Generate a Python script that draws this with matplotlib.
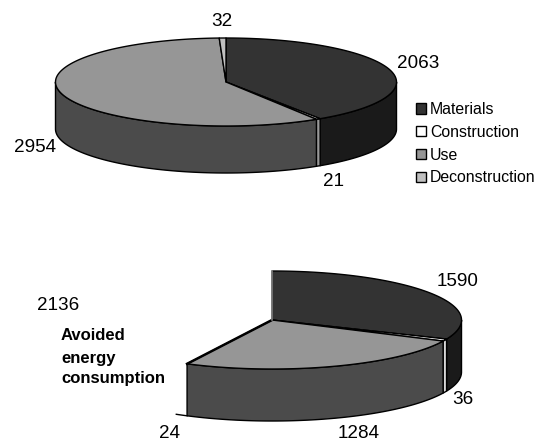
import numpy as np
import matplotlib
matplotlib.use("Agg")
import matplotlib.pyplot as plt
from matplotlib.patches import Patch

plt.rcParams['font.family'] = ['Liberation Sans', 'DejaVu Sans']

categories = ["Materials", "Construction", "Use", "Deconstruction"]
top_values = [2063, 21, 2954, 32]
# second pie: the gap is the avoided energy consumption
bottom_values = [1590, 36, 1284, 24]
avoided_value = 2136

top_colors = ["#333333", "#ffffff", "#969696", "#c0c0c0"]
side_colors = ["#1a1a1a", "#999999", "#4b4b4b", "#606060"]
side_colors_bottom = ["#1a1a1a", "#d8d8d8", "#4b4b4b", "#606060"]


def arc(t0, t1, cx, cy, rx, ry, dy=0):
    # angles clockwise from 12 o'clock, y axis goes down
    t = np.radians(np.linspace(t0, t1, max(int(abs(t1 - t0)) * 2, 2)))
    return cx + rx * np.sin(t), cy - ry * np.cos(t) + dy


def draw_pie(ax, values, total, cx, cy, rx, ry, depth, sides, n_shown=None):
    # slices after n_shown are left out, only their bottom rim gets a line
    edges = np.concatenate([[0], np.cumsum(values)]) / total * 360
    n_shown = len(values) if n_shown is None else n_shown
    # walls first, only the front half of the disc shows one
    for i in range(n_shown):
        t0 = max(edges[i], 90)
        t1 = min(edges[i + 1], 270)
        if t1 <= t0:
            continue
        xa, ya = arc(t0, t1, cx, cy, rx, ry)
        xb, yb = arc(t1, t0, cx, cy, rx, ry, depth)
        ax.fill(np.r_[xa, xb], np.r_[ya, yb], facecolor=sides[i],
                edgecolor="black", linewidth=1.0, joinstyle="round", zorder=2)
    for i in range(n_shown):
        xa, ya = arc(edges[i], edges[i + 1], cx, cy, rx, ry)
        ax.fill(np.r_[cx, xa], np.r_[cy, ya], facecolor=top_colors[i],
                edgecolor="black", linewidth=1.0, joinstyle="round", zorder=3)
    return edges


fig = plt.figure(figsize=(5.41, 4.41), dpi=100)
ax = fig.add_axes([0, 0, 1, 1])
ax.set_xlim(0, 541)
ax.set_ylim(441, 0)
ax.axis("off")

draw_pie(ax, top_values, sum(top_values), 226, 82, 170.5, 44, 47, side_colors)

bx, by, brx, bry, bdepth = 272, 320, 189.5, 49, 52
bedges = draw_pie(ax, bottom_values, sum(bottom_values) + avoided_value, bx, by, brx, bry, bdepth,
                  side_colors_bottom, n_shown=3)
# heavy radial edge next to the hidden slice
xe, ye = arc(bedges[3], bedges[3], bx, by, brx, bry)
ax.plot([bx, xe[0]], [by, ye[0]], color="black", lw=1.8, zorder=4)
# the radial edge at 12 o'clock is grey in the original
xe, ye = arc(0, 0, bx, by, brx, bry)
ax.plot([bx, xe[0]], [by, ye[0]], color="#8c8c8c", lw=1.1, zorder=4)
# stub of the hidden slice under the wall
xe, ye = arc(bedges[3], bedges[4] + 2, bx, by, brx, bry, bdepth)
ax.plot(xe, ye, color="black", lw=1.0, zorder=1)

fs = 13.6
ax.text(222, 21, str(top_values[3]), fontsize=fs, ha="center", va="center")
ax.text(418, 63, str(top_values[0]), fontsize=fs, ha="center", va="center")
ax.text(35, 147, str(top_values[2]), fontsize=fs, ha="center", va="center")
ax.text(334, 182, str(top_values[1]), fontsize=fs, ha="center", va="center")

ax.text(458, 282, str(bottom_values[0]), fontsize=fs, ha="center", va="center")
ax.text(463, 400, str(bottom_values[1]), fontsize=fs, ha="center", va="center")
ax.text(359, 433, str(bottom_values[2]), fontsize=fs, ha="center", va="center")
ax.text(170, 433, str(bottom_values[3]), fontsize=fs, ha="center", va="center")
ax.text(58, 305, str(avoided_value), fontsize=fs, ha="center", va="center")

for y, word in zip([336, 358, 379], ["Avoided", "energy", "consumption"]):
    ax.text(61, y, word, fontsize=12, fontweight="bold", ha="left", va="center")

handles = [Patch(facecolor=c, edgecolor="black", linewidth=1.0) for c in top_colors]
ax.legend(handles, categories, loc="upper left", bbox_to_anchor=(416, 102),
          bbox_transform=ax.transData, frameon=False, fontsize=11.4,
          handlelength=0.62, handleheight=0.62, handletextpad=0.25,
          labelspacing=0.49, borderpad=0, borderaxespad=0)

fig.savefig("out.png", dpi=100)
